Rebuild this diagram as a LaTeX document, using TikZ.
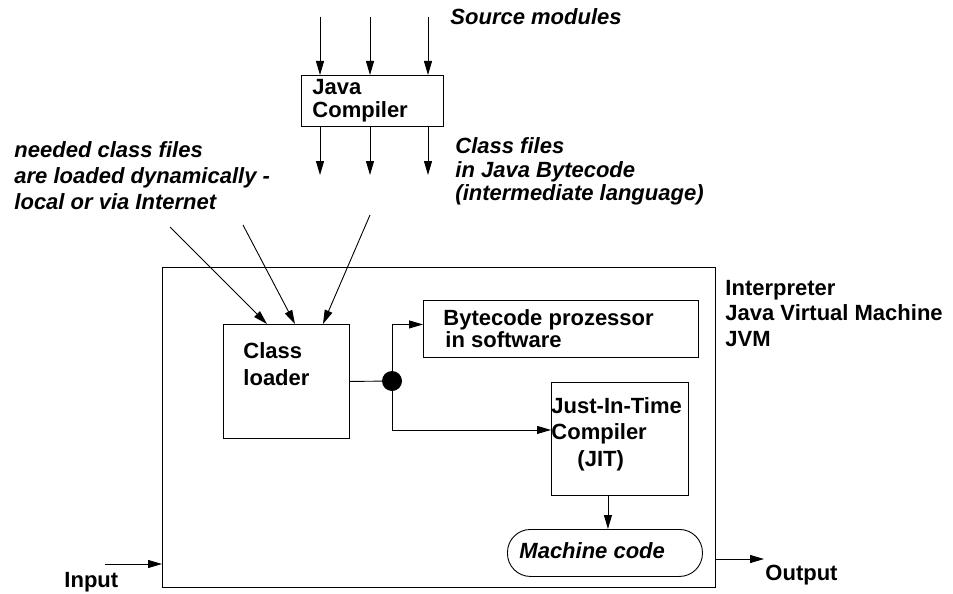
\documentclass[tikz,border=0pt]{standalone}
\usepackage{fontspec}
\setmainfont{Liberation Sans}
\usetikzlibrary{arrows.meta}
\begin{document}
\begin{tikzpicture}[x=1pt,y=-1pt,
  line width=0.9pt,
  arr/.style={-{Triangle[length=14pt,width=8pt]}},
  box/.style={draw,inner sep=0,anchor=north west},
  lbl/.style={anchor=base west,inner sep=0,font=\fontsize{22}{25}\selectfont\bfseries},
  ilbl/.style={anchor=base west,inner sep=0,font=\fontsize{22}{25}\selectfont\bfseries\itshape}]
\useasboundingbox (0,0) rectangle (953,594);

% boxes
\node[box,minimum width=553pt,minimum height=320pt] (jvm) at (162,267) {};
\node[box,minimum width=142pt,minimum height=51pt] (comp) at (301,75) {};
\node[box,minimum width=126pt,minimum height=114pt] (loader) at (223,324) {};
\node[box,minimum width=275pt,minimum height=57pt] (bc) at (423,300) {};
\node[box,minimum width=137pt,minimum height=113pt] (jit) at (551,382) {};
\node[box,minimum width=195pt,minimum height=47pt,rounded corners=23pt] (mc) at (507,529) {};
\node[circle,fill,inner sep=0,minimum size=20pt] (dot) at (392,381) {};

% free ends
\coordinate (s1) at (320,17);
\coordinate (s2) at (370,17);
\coordinate (s3) at (428,17);
\coordinate (c1) at (320,175);
\coordinate (c2) at (370,175);
\coordinate (c3) at (428,175);
\coordinate (d1) at (170,227);
\coordinate (d2) at (243,225);
\coordinate (d3) at (370,215);
\coordinate (in) at (105,564);
\coordinate (out) at (764,559);

% connectors
\foreach \p in {s1,s2,s3} \draw[arr] (\p) -- (\p |- comp.north);
\foreach \p in {c1,c2,c3} \draw[arr] (\p |- comp.south) -- (\p);
\draw[arr] (d1) -- ([xshift=44pt]loader.north west);
\draw[arr] (d2) -- ([xshift=72pt]loader.north west);
\draw[arr] (d3) -- ([xshift=100pt]loader.north west);
\draw (loader.east) -- (dot.center);
\draw[arr] (dot.center) |- ([yshift=4.5pt]bc.west);
\draw[arr] (dot.center) |- ([yshift=9pt]jit.west);
\draw[arr] ([xshift=-12pt]jit.south) -- ([xshift=-12pt]jit.south |- mc.north);
\draw[arr] (in) -- (in -| jvm.west);
\draw[arr] (out -| jvm.east) -- (out);

% texts
\node[ilbl] (tsrc) at (450,25) {Source modules};
\node[ilbl] (tcf1) at (455,153) {Class files};
\node[ilbl] (tcf2) at (455,177) {in Java Bytecode};
\node[ilbl] (tcf3) at (455,200) {(intermediate language)};
\node[ilbl] (tn1) at (14,157) {needed class files};
\node[ilbl] (tn2) at (14,183) {are loaded dynamically -};
\node[ilbl] (tn3) at (14,209) {local or via Internet};
\node[lbl] (tjc1) at (312,94) {Java};
\node[lbl] (tjc2) at (312,117) {Compiler};
\node[lbl] (tcl1) at (243,358) {Class};
\node[lbl] (tcl2) at (243,385) {loader};
\node[lbl] (tbc1) at (443,325) {Bytecode prozessor};
\node[lbl] (tbc2) at (445,347) {in software};
\node[lbl] (tin1) at (725,295) {Interpreter};
\node[lbl] (tin2) at (725,320) {Java Virtual Machine};
\node[lbl] (tin3) at (725,346) {JVM};
\node[lbl] (tjit1) at (551,413) {Just-In-Time};
\node[lbl] (tjit2) at (551,439) {Compiler};
\node[lbl] (tjit3) at (577,466) {(JIT)};
\node[ilbl] (tmc) at (519,558) {Machine code};
\node[lbl] (tinp) at (64,587) {Input};
\node[lbl] (tout) at (765,580) {Output};
\end{tikzpicture}
\end{document}
